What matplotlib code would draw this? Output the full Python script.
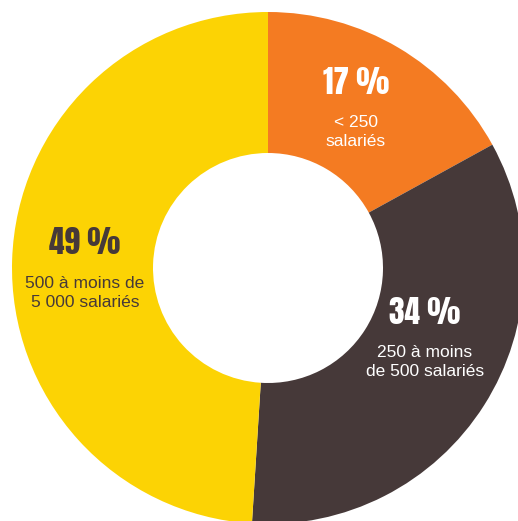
import matplotlib
matplotlib.use("Agg")
import matplotlib.pyplot as plt

# Répartition des entreprises par taille
categories = ["< 250\nsalariés", "250 à moins\nde 500 salariés", "500 à moins de\n5 000 salariés"]
shares = [17, 34, 49]
colors = ["#F47B22", "#463939", "#FCD304"]
text_colors = ["white", "white", "#463939"]
label_pos = [(88, 186), (157, -44), (-183, 25)]

W, H = 518, 521
fig = plt.figure(figsize=(W / 100, H / 100), dpi=100)
ax = fig.add_axes([0, 0, 1, 1])

ax.pie(shares, colors=colors, startangle=90, counterclock=False,
       radius=256, wedgeprops=dict(width=141, linewidth=0), center=(0, 0))
ax.set_xlim(-268, W - 268)
ax.set_ylim(268 - H, 268)
ax.set_aspect("equal")
ax.axis("off")

for val, cat, tc, (x, y) in zip(shares, categories, text_colors, label_pos):
    ax.text(x, y, f"{val} %", ha="center", va="center", color=tc,
            fontsize=22.5, family="Anton")
    ax.text(x, y - 50, cat, ha="center", va="center", color=tc,
            fontsize=12.5, family="Liberation Sans", linespacing=1.4)

fig.savefig("out.png", dpi=100)
